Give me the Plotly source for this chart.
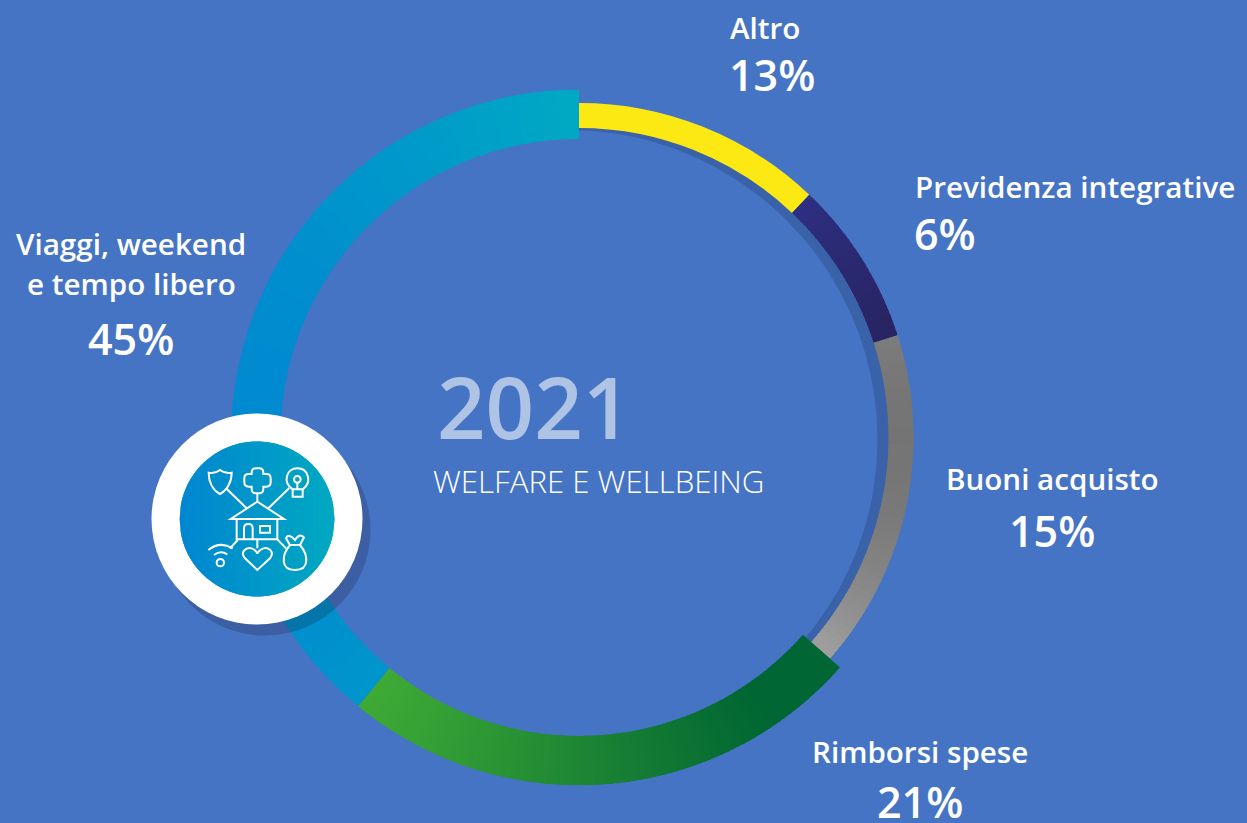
import math
import plotly.graph_objects as go

# ---- data ----
categories = ["Altro", "Previdenza integrative", "Buoni acquisto", "Rimborsi spese", "Viaggi, weekend<br>e tempo libero"]
shares = [13, 6, 15, 21, 45]
# angular extent (degrees) each arc really occupies in the drawing
arc_spans = [43.5, 28.7, 59.2, 88.0, 140.6]
center_year = "2021"
center_title = "WELFARE E WELLBEING"

W, H = 1247, 823
CX, CY, RMAX = 579.0, 437.4, 348.0
BG = "#4674C4"

thin = (309.5, 334.5)
thick = (298.5, 348.0)
bands = [thin, thin, thin, thick, thick]
grads = [
    [(0, "#FCE913"), (1, "#FCE913")],
    [(792, "#2E3087"), (897, "#28235F")],
    [(810, "#A5A5A5"), (913, "#6E6E6E")],
    [(357, "#41AD35"), (760, "#006633")],
    [(232, "#0088D1"), (578, "#00A9C3")],
]


def hex2rgb(h):
    return [int(h[i:i + 2], 16) for i in (1, 3, 5)]


def grad_colour(stops, x):
    (x0, c0), (x1, c1) = stops
    t = 0 if x1 == x0 else max(0, min(1, (x - x0) / (x1 - x0)))
    a, b = hex2rgb(c0), hex2rgb(c1)
    return "rgb(%d,%d,%d)" % tuple(round(a[i] + (b[i] - a[i]) * t) for i in range(3))


def px(x):
    return x / W


def py(y):
    return 1 - y / H


def polar_domain(dx=0, dy=0):
    return dict(
        x=[px(CX + dx - RMAX), px(CX + dx + RMAX)],
        y=[py(CY + dy + RMAX), py(CY + dy - RMAX)],
    )


def polar_axes(dx=0, dy=0):
    return dict(
        domain=polar_domain(dx, dy),
        bgcolor="rgba(0,0,0,0)",
        barmode="overlay",
        radialaxis=dict(visible=False, range=[0, RMAX]),
        angularaxis=dict(visible=False, rotation=90, direction="clockwise"),
    )


fig = go.Figure()

# shadow of the thin arcs (same arcs, offset subplot)
shadow_span = sum(arc_spans[:3])
fig.add_trace(go.Barpolar(
    subplot="polar",
    theta=[shadow_span / 2], width=[shadow_span],
    base=[thin[0]], r=[thin[1] - thin[0]],
    marker=dict(color="#3A62A8", line=dict(width=0)),
    hoverinfo="skip", showlegend=False,
))

STEP = 1.0
start = 0.0
for name, share, span, band, stops in zip(categories, shares, arc_spans, bands, grads):
    end = start + span
    thetas, widths, colours = [], [], []
    a = start
    solid = stops[0][1] == stops[1][1]
    while a < end - 1e-6:
        b = end if solid else min(end, a + STEP + 0.5)
        adv = end if solid else a + STEP
        thetas.append((a + b) / 2)
        widths.append(b - a)
        rm = sum(band) / 2
        colours.append(grad_colour(stops, CX + rm * math.sin(math.radians((a + b) / 2))))
        a = adv
    fig.add_trace(go.Barpolar(
        subplot="polar2",
        name=name.replace("<br>", " "),
        theta=thetas, width=widths,
        base=[band[0]] * len(thetas), r=[band[1] - band[0]] * len(thetas),
        marker=dict(color=colours, line=dict(width=0)),
        hovertemplate=f"{name}: {share}%<extra></extra>",
        showlegend=False,
    ))
    start = end

shapes = []


def circle(cx, cy, r, **kw):
    shapes.append(dict(type="circle", xref="paper", yref="paper",
                       x0=px(cx - r), x1=px(cx + r), y0=py(cy + r), y1=py(cy - r),
                       layer="above", line=dict(width=0), **kw))


# badge
DISC = (257.0, 519.0)
circle(265.0, 530.0, 105.5, fillcolor="rgba(25,25,40,0.22)")
circle(DISC[0], DISC[1], 105.5, fillcolor="#FFFFFF")
r = 77.5
N = 156
for i in range(N):
    x0 = DISC[0] - r + 2 * r * i / N
    x1 = min(DISC[0] + r, x0 + 2 * r / N + 1)
    h0 = math.sqrt(max(0, r * r - (x0 - DISC[0]) ** 2))
    h1 = math.sqrt(max(0, r * r - (x1 - DISC[0]) ** 2))
    col = grad_colour([(179.5, "#0086D1"), (334.5, "#00A9C1")], (x0 + x1) / 2)
    path = (f"M{px(x0)},{py(DISC[1] - h0)} L{px(x1)},{py(DISC[1] - h1)} "
            f"L{px(x1)},{py(DISC[1] + h1)} L{px(x0)},{py(DISC[1] + h0)} Z")
    shapes.append(dict(type="path", xref="paper", yref="paper", path=path,
                       fillcolor=col, line=dict(width=0), layer="above"))

# line icon, coordinates in a 3x local grid of the badge area
ICON_X, ICON_Y = 140.0, 400.0


def icon_path(cmds, closed=False):
    out = []
    for c in cmds:
        if isinstance(c, str):
            out.append(c)
        else:
            out.append(f"{px(ICON_X + c[0] / 3)},{py(ICON_Y + c[1] / 3)}")
    s = " ".join(out)
    shapes.append(dict(type="path", xref="paper", yref="paper", path=s,
                       fillcolor="rgba(0,0,0,0)", layer="above",
                       line=dict(color="#FFFFFF", width=2)))


def icon_circle(cx, cy, rr):
    k = 0.5523 * rr
    icon_path(["M", (cx - rr, cy),
               "C", (cx - rr, cy - k), (cx - k, cy - rr), (cx, cy - rr),
               "C", (cx + k, cy - rr), (cx + rr, cy - k), (cx + rr, cy),
               "C", (cx + rr, cy + k), (cx + k, cy + rr), (cx, cy + rr),
               "C", (cx - k, cy + rr), (cx - rr, cy + k), (cx - rr, cy), "Z"])


# shield
icon_path(["M", (206, 218), "Q", (225, 222), (240, 210), "Q", (255, 222), (275, 218),
           "C", (275, 245), (262, 270), (240, 282), "C", (218, 270), (206, 245), (206, 218), "Z"])
icon_path(["M", (258, 265), "L", (320, 325)])
# cross
icon_path(["M", (335, 222), "L", (335, 218), "Q", (335, 205), (348, 205), "L", (357, 205),
           "Q", (370, 205), (370, 218), "L", (370, 222), "L", (379, 222),
           "Q", (392, 222), (392, 235), "L", (392, 247), "Q", (392, 260), (379, 260),
           "L", (370, 260), "L", (370, 267), "Q", (370, 280), (357, 280), "L", (348, 280),
           "Q", (335, 280), (335, 267), "L", (335, 260), "L", (326, 260),
           "Q", (313, 260), (313, 247), "L", (313, 235), "Q", (313, 222), (326, 222), "Z"])
icon_path(["M", (352, 280), "L", (352, 305)])
# bulb
icon_path(["M", (458, 268), "C", (426, 245), (440, 205), (472, 205),
           "C", (504, 205), (518, 245), (488, 268), "Z"])
icon_circle(472, 238, 10)
icon_path(["M", (472, 248), "L", (472, 268)])
icon_path(["M", (458, 268), "L", (458, 290), "L", (488, 290), "L", (488, 268)])
icon_path(["M", (448, 264), "L", (385, 325)])
# house
icon_path(["M", (272, 357), "L", (352, 305), "L", (432, 357), "Z"])
icon_path(["M", (290, 357), "L", (290, 418), "L", (412, 418), "L", (412, 357)])
icon_path(["M", (312, 418), "L", (312, 385), "Q", (312, 372), (325, 372),
           "Q", (338, 372), (338, 385), "L", (338, 418)])
icon_path(["M", (360, 378), "L", (390, 378), "L", (390, 398), "L", (360, 398), "Z"])
icon_path(["M", (352, 418), "L", (352, 445)])
# heart
icon_path(["M", (352, 510), "L", (315, 475), "C", (298, 455), (320, 440), (335, 445),
           "C", (345, 448), (352, 458), (352, 462), "C", (352, 458), (360, 448), (370, 445),
           "C", (385, 440), (405, 455), (390, 475), "Z"])
# wifi
icon_path(["M", (205, 450), "Q", (240, 422), (278, 445)])
icon_path(["M", (222, 465), "Q", (242, 450), (262, 463)])
icon_circle(241, 488, 11)
icon_path(["M", (270, 445), "L", (293, 420)])
# bag
icon_path(["M", (412, 418), "L", (438, 445)])
icon_path(["M", (450, 435), "C", (425, 465), (420, 510), (465, 510),
           "C", (510, 510), (505, 465), (480, 435), "Z"])
icon_path(["M", (450, 435), "L", (438, 415), "Q", (445, 398), (465, 420),
           "Q", (478, 398), (492, 412), "L", (480, 435)])

FONT = "Open Sans"
annotations = []


def text(x, y, s, size, color="#FFFFFF", weight=600, family=FONT, anchor="center", **kw):
    annotations.append(dict(xref="paper", yref="paper", x=px(x), y=py(y), text=s,
                            showarrow=False, xanchor=anchor, yanchor="middle", align="center",
                            font=dict(family=family, size=size, color=color, weight=weight), **kw))


label_pos = [
    ((765, 28), (772, 74)),
    ((1075, 186), (945, 233)),
    ((1052, 478), (1052, 530)),
    ((920, 751), (920, 801)),
    ((131, 263), (131, 338)),
]
for name, share, (lp, vp) in zip(categories, shares, label_pos):
    if name.startswith("Viaggi"):
        a, b = name.split("<br>")
        text(lp[0], 243, a, 29.6)
        text(lp[0], 283, b, 29.6)
    else:
        text(lp[0], lp[1], name, 29.6)
    extra = dict(height=40) if vp[1] > 780 else {}
    text(vp[0], vp[1], f"{share}%", 43, **extra)

text(534, 406, center_year, 85, color="#AFC3E5", weight=600)
text(598.5, 481, center_title, 31.2, weight=300)

fig.update_layout(
    width=W, height=H, autosize=False,
    margin=dict(l=0, r=0, t=0, b=0),
    paper_bgcolor=BG, plot_bgcolor=BG,
    showlegend=False,
    polar=polar_axes(-11, 2),
    polar2=polar_axes(0, 0),
    shapes=shapes,
    annotations=annotations,
)

fig.write_html("out.html", config=dict(displayModeBar=False), post_script=(
    "document.body.style.margin='0';document.body.style.background='%s';"
    "document.documentElement.style.overflow='hidden';" % BG))
